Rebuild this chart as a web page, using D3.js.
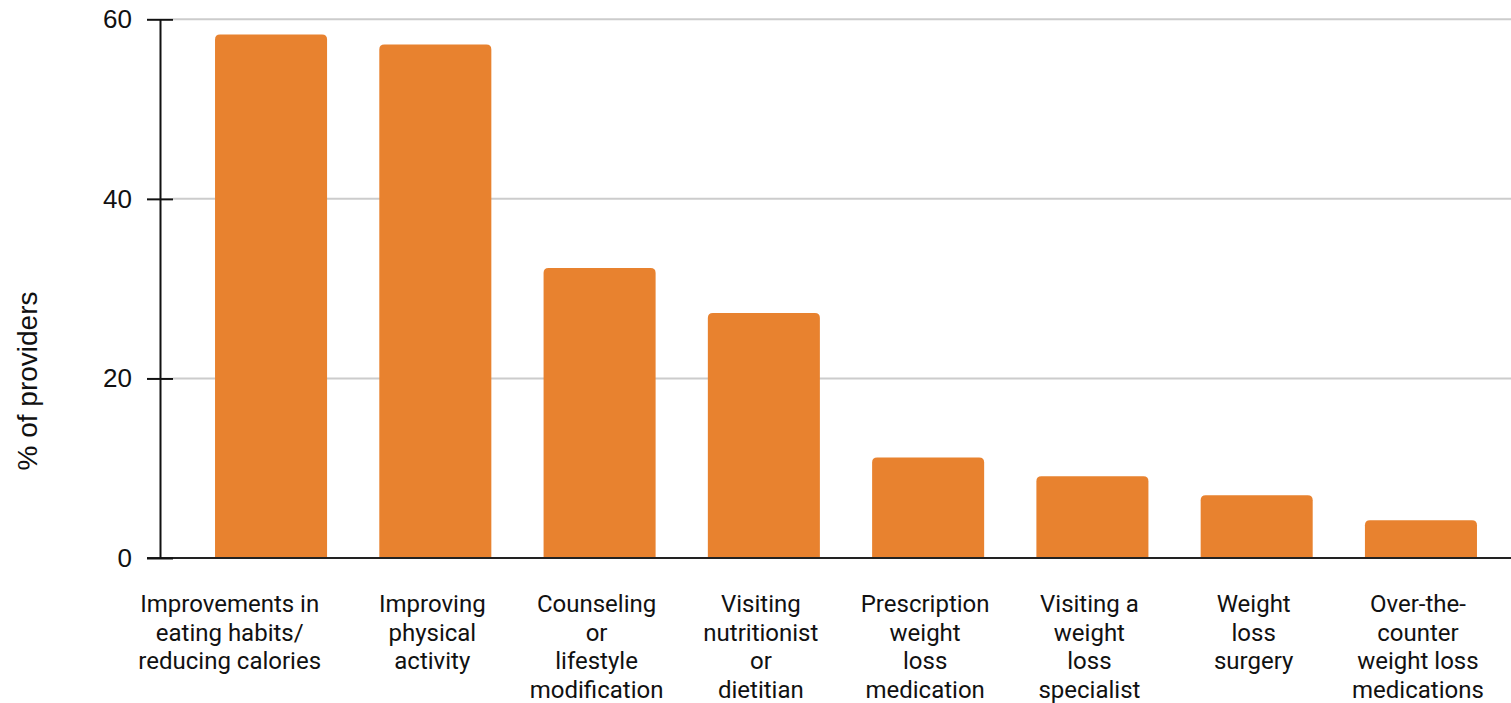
<!DOCTYPE html>
<html>
<head>
<meta charset="utf-8">
<script src="https://cdn.jsdelivr.net/npm/d3@7"></script>
<style>
  html, body { margin: 0; padding: 0; background: #fff; }
  svg { display: block; }
</style>
</head>
<body>
<svg id="chart" width="1511" height="703"></svg>
<script>
// Share of providers recommending each weight-management approach
const categories = [
  ["Improvements in", "eating habits/", "reducing calories"],
  ["Improving", "physical", "activity"],
  ["Counseling", "or", "lifestyle", "modification"],
  ["Visiting", "nutritionist", "or", "dietitian"],
  ["Prescription", "weight", "loss", "medication"],
  ["Visiting a", "weight", "loss", "specialist"],
  ["Weight", "loss", "surgery"],
  ["Over-the-", "counter", "weight loss", "medications"]
];
const values = [58.3, 57.2, 32.3, 27.3, 11.2, 9.1, 7.0, 4.2];
const yTicks = [0, 20, 40, 60];
const yLabel = "% of providers";

const svg = d3.select("#chart");
const W = 1511;
const plotLeft = 160, plotRight = 1532, plotTop = 19.3, plotBottom = 558;

const keys = categories.map((c, i) => i);
const x = d3.scaleBand().domain(keys).range([plotLeft, plotRight]).paddingInner(0.318).paddingOuter(0.335);
const y = d3.scaleLinear().domain([0, 60]).range([plotBottom, plotTop]);

// gridlines
svg.append("g").selectAll("line").data(yTicks.filter(d => d > 0)).join("line")
  .attr("x1", 173).attr("x2", W)
  .attr("y1", d => y(d)).attr("y2", d => y(d))
  .attr("stroke", "#cccccc").attr("stroke-width", 2);

// bars with rounded top corners
const r = 5;
svg.append("g").selectAll("path").data(values).join("path")
  .attr("fill", "#e8822f")
  .attr("d", (v, i) => {
    const x0 = x(i), x1 = x(i) + x.bandwidth(), y0 = y(v), yb = y(0);
    return `M${x0},${yb}V${y0 + r}Q${x0},${y0} ${x0 + r},${y0}H${x1 - r}Q${x1},${y0} ${x1},${y0 + r}V${yb}Z`;
  });

// baseline
svg.append("line").attr("x1", 147).attr("x2", W)
  .attr("y1", y(0)).attr("y2", y(0))
  .attr("stroke", "#222").attr("stroke-width", 2);

// y axis
const yAxis = d3.axisLeft(y).tickValues(yTicks).tickSize(0).tickPadding(0).tickFormat(d3.format("d"));
const gy = svg.append("g").attr("transform", `translate(${plotLeft},0)`).call(yAxis);
gy.select(".domain").attr("stroke", "#111").attr("stroke-width", 2);
gy.selectAll(".tick line").attr("x1", -13).attr("x2", 13).attr("stroke", "#111").attr("stroke-width", 2);
gy.selectAll(".tick text")
  .attr("x", -28)
  .attr("dy", "0.32em")
  .attr("fill", "#111")
  .style("font-family", "'Liberation Sans', Arial, sans-serif")
  .style("font-size", "26px");

// y axis title
svg.append("text")
  .attr("transform", `translate(37,381) rotate(-90)`)
  .attr("text-anchor", "middle")
  .attr("fill", "#111")
  .style("font-family", "'Liberation Sans', Arial, sans-serif")
  .style("font-size", "28px")
  .text(yLabel);

// category labels, centred under each bar; a label wider than its band
// is pulled back so it ends just inside its bar's right edge
const lab = svg.append("g").selectAll("text").data(categories).join("text")
  .attr("y", 612)
  .attr("text-anchor", "middle")
  .attr("fill", "#111")
  .style("font-family", "Roboto, sans-serif")
  .style("font-size", "24px");
lab.selectAll("tspan").data(d => d).join("tspan")
  .attr("x", 0)
  .attr("dy", (d, j) => j === 0 ? 0 : 28.5)
  .text(d => d);
lab.each(function (c, i) {
  const t = d3.select(this);
  let w = 0;
  t.selectAll("tspan").each(function () { w = Math.max(w, this.getComputedTextLength()); });
  let cx = x(i) + x.bandwidth() / 2 - 3;
  if (w > x.step()) cx = x(i) + x.bandwidth() - 6 - w / 2;
  t.attr("x", cx);
  t.selectAll("tspan").attr("x", cx);
});
</script>
</body>
</html>
